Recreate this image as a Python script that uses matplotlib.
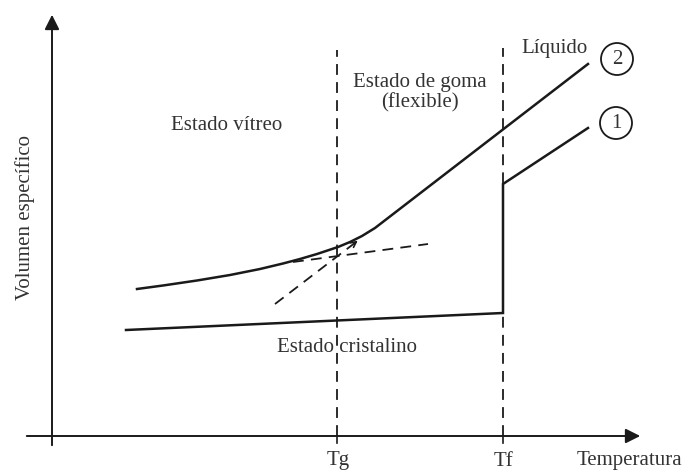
import matplotlib.pyplot as plt
from matplotlib.patches import Circle

# schematic: specific volume vs temperature for a polymer
tg = 337
tf = 503

glass_temp = [137, 163, 197, 230, 260, 283, 300, 317, 338, 350, 362, 375, 588]
glass_vol = [183, 186.5, 191.5, 197, 203, 208.5, 213, 218, 225, 230, 236, 244, 408]

crystal_temp = [126, 503, 503, 588]
crystal_vol = [142, 159, 288, 344]

glass_extra_temp = [293, 428]
glass_extra_vol = [210, 228]
liquid_extra_temp = [275, 360]
liquid_extra_vol = [168, 233]

INK = "#1a1a1a"
TXT = "#333333"

plt.rcParams['font.family'] = ['Liberation Serif', 'DejaVu Serif']

fig = plt.figure(figsize=(6.86, 4.72), dpi=100)
ax = fig.add_axes([0, 0, 1, 1])
ax.set_xlim(0, 686)
ax.set_ylim(0, 472)
ax.axis('off')

# axes with arrow heads
ax.annotate('', xy=(643, 36), xytext=(24, 36),
            arrowprops=dict(arrowstyle='-|>', color=INK, lw=1.4, mutation_scale=22))
ax.annotate('', xy=(52, 460), xytext=(52, 24),
            arrowprops=dict(arrowstyle='-|>', color=INK, lw=1.4, mutation_scale=22))
for t in (tg, tf):
    ax.plot([t, t], [36, 29], color=INK, lw=1.2)

# transition temperatures
ax.plot([tg, tg], [36, 422], color=INK, lw=1.3, ls=(0, (6, 4)))
ax.plot([tf, tf], [36, 424], color=INK, lw=1.3, ls=(0, (6, 4)))

# curves
ax.plot(glass_temp, glass_vol, color=INK, lw=1.8, solid_joinstyle='round')
ax.plot(crystal_temp, crystal_vol, color=INK, lw=1.8, solid_joinstyle='miter')
ax.plot(glass_extra_temp, glass_extra_vol, color=INK, lw=1.3, ls=(0, (6, 4)))
ax.plot(liquid_extra_temp, liquid_extra_vol, color=INK, lw=1.3, ls=(0, (6, 4)))
ax.annotate('', xy=(liquid_extra_temp[1], liquid_extra_vol[1]),
            xytext=(liquid_extra_temp[1] - 8, liquid_extra_vol[1] - 6),
            arrowprops=dict(arrowstyle='->', color=INK, lw=1.2, mutation_scale=10))

# labels
kw = dict(color=TXT, fontsize=15, ha='center', va='center')
ax.text(25, 254, 'Volumen específico', rotation=90, **kw)
ax.text(227, 346, 'Estado vítreo', **kw)
ax.text(420, 389, 'Estado de goma', **kw)
ax.text(420, 369, '(flexible)', **kw)
ax.text(555, 423, 'Líquido', **kw)
ax.text(347, 125, 'Estado cristalino', **kw)
ax.text(338, 11, 'Tg', **kw)
ax.text(504, 11, 'Tf', **kw)
ax.text(629, 12, 'Temperatura', **kw)

for (cx, cy), num in (((617, 413), '2'), ((616, 349), '1')):
    ax.add_patch(Circle((cx, cy), 16, fill=False, ec=INK, lw=1.3))
    ax.text(cx, cy, num, **kw)

fig.savefig('out.png', dpi=100)
